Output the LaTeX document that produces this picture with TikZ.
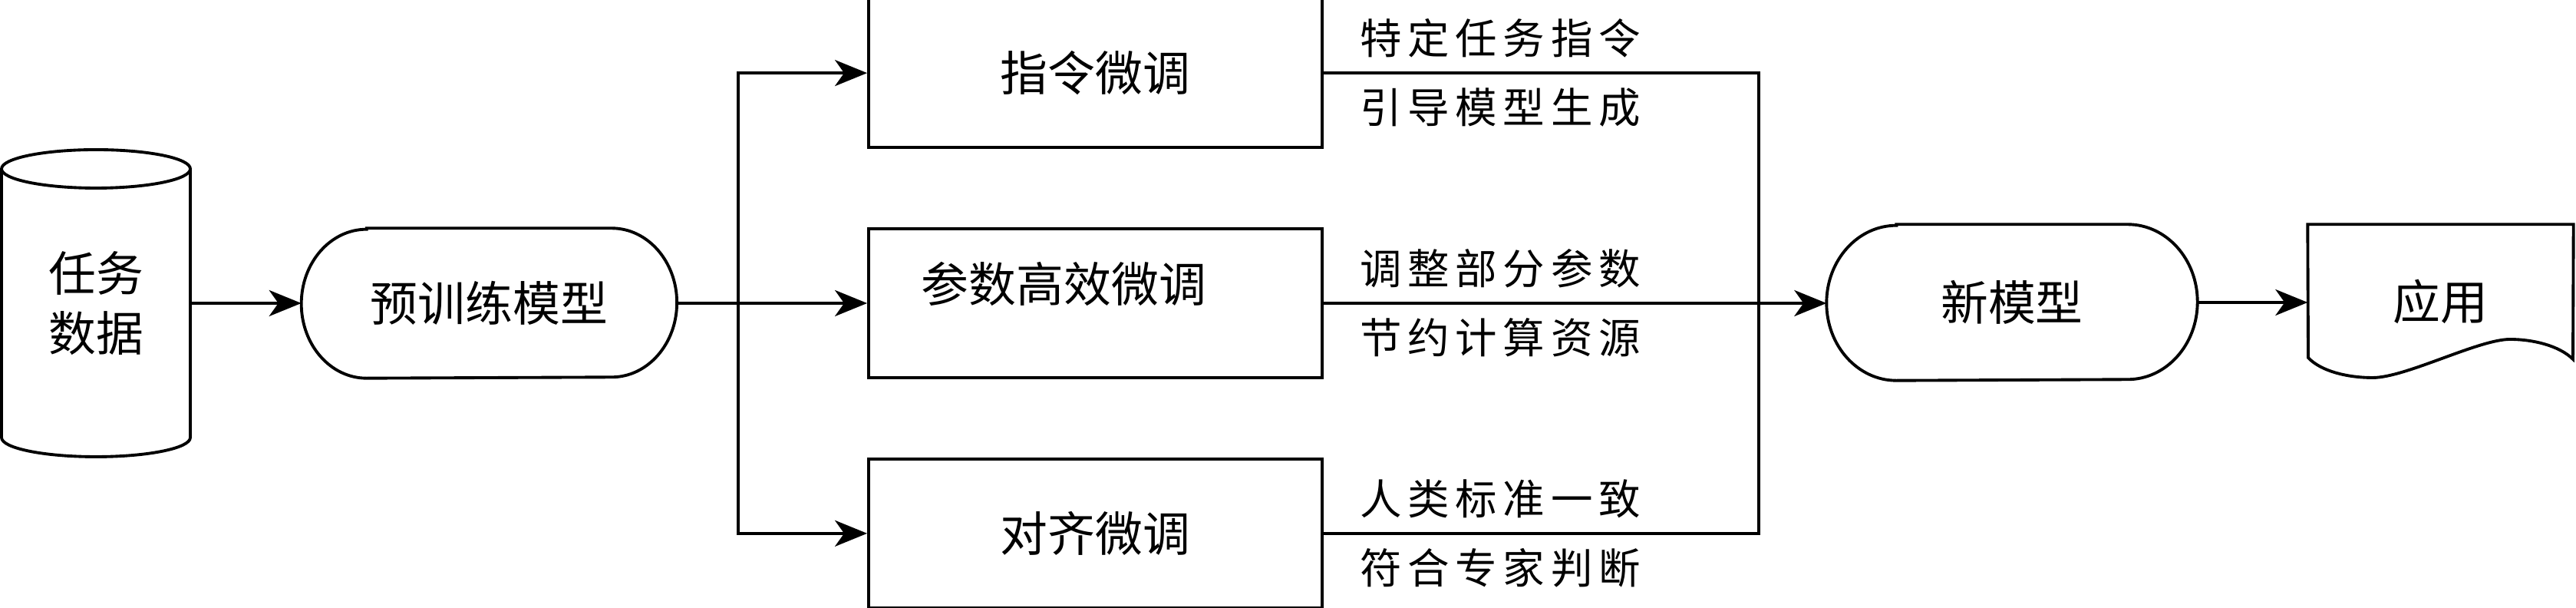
\documentclass[tikz,border=0pt]{standalone}
\usepackage{fontspec}
\setmainfont{Noto Sans CJK SC}
\newfontfamily\lblfont[LetterSpace=14]{Noto Sans CJK SC}
\usetikzlibrary{arrows.meta, positioning}

\begin{document}
\begin{tikzpicture}[
    line/.style={line width=1.1pt},
    arr/.style={line, -{Stealth[length=4.2mm, width=3.4mm, inset=1.2mm]}},
    box/.style={line, draw, rectangle, minimum width=5.91cm, minimum height=1.94cm, text centered},
    lbl/.style={anchor=west, inner sep=0pt, font=\lblfont\fontsize{15.5}{18}\selectfont},
    font=\fontsize{17.6}{22}\selectfont
]
    \useasboundingbox (0,0) rectangle (33.57,7.92);

    % left part
    \node (data) [minimum width=2.46cm, minimum height=4cm, align=center] at (1.25,3.97) {任务\\数据};
    \draw[line] (1.25,5.72) ellipse [x radius=1.23cm, y radius=0.25cm];
    \draw[line] (0.02,5.72) -- (0.02,2.22) arc[start angle=180, end angle=360, x radius=1.23cm, y radius=0.25cm] -- (2.48,5.72);

    \node (pretrain) [right=1.44cm of data, minimum width=4.88cm, minimum height=1.94cm] {预训练模型};

    % fine-tuning boxes
    \node (peft) [box, label={[xshift=-0.41cm, yshift=0.25cm]center:参数高效微调}] at (14.275,3.97) {};
    \node (instr) [box, above=1.02cm of peft] {指令微调};
    \node (align) [box, below=1.02cm of peft] {对齐微调};

    \foreach \b/\up/\dn in {instr/特定任务指令/引导模型生成, peft/调整部分参数/节约计算资源, align/人类标准一致/符合专家判断} {
        \node[lbl] (\b-up) at ([xshift=0.47cm, yshift=0.45cm]\b.east) {\up};
        \node[lbl] (\b-dn) at ([xshift=0.47cm, yshift=-0.45cm]\b.east) {\dn};
    }

    % right part
    \node (newmodel) [minimum width=4.82cm, minimum height=2.02cm] at (26.22,3.98) {新模型};
    \node (app) [minimum width=3.45cm, minimum height=1.99cm] at (31.805,3.995) {应用};

    \foreach \n/\rx/\ry in {pretrain/0.85/0.97, newmodel/0.91/1.01}
        \draw[line] ([xshift=\rx cm]\n.north west) -- ([xshift=-\rx cm]\n.north east)
            arc[start angle=90, end angle=-90, x radius=\rx cm, y radius=\ry cm]
            -- ([xshift=\rx cm]\n.south west)
            arc[start angle=270, end angle=90, x radius=\rx cm, y radius=\ry cm] -- cycle;

    \draw[line] (app.north west) -- (app.north east) -- (33.53,3.24)
        .. controls (33.35,3.42) and (33.0,3.50) .. (32.71,3.50)
        .. controls (32.3,3.50) and (31.35,3.00) .. (30.92,3.00)
        .. controls (30.6,3.00) and (30.25,3.08) .. (30.08,3.26) -- cycle;

    % connectors
    \coordinate (split) at (9.62,3.97);
    \coordinate (merge) at (22.92,3.97);

    \draw[arr] (data.east) -- (pretrain.west);
    \draw[line] (pretrain.east) -- (split);
    \draw[arr] (split) -- (peft.west);
    \draw[arr] (split) |- (instr.west);
    \draw[arr] (split) |- (align.west);

    \draw[line] (instr.east) -| (merge);
    \draw[line] (align.east) -| (merge);
    \draw[arr] (peft.east) -- (peft.east -| newmodel.west);
    \draw[arr] (newmodel.east) -- (newmodel.east -| app.west);
\end{tikzpicture}
\end{document}
